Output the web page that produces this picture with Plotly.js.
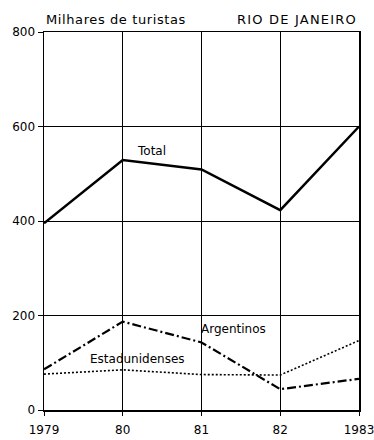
<!DOCTYPE html>
<html><head><meta charset="utf-8">
<script src="https://cdn.plot.ly/plotly-3.0.1.min.js"></script>
<style>html,body{margin:0;padding:0;background:#fff}#chart{width:374px;height:440px}</style>
</head><body><div id="chart"></div>
<script>
const years = [1979, 1980, 1981, 1982, 1983];
const tickLabels = ['1979', '80', '81', '82', '1983'];
const total = [395, 529, 509, 423, 600];
const argentinos = [86, 187, 143, 44, 66];
const estadunidenses = [76, 85, 75, 74, 147];

const font = {family: 'DejaVu Sans, sans-serif', size: 12, color: '#000'};
const titleFont = {family: 'DejaVu Sans, sans-serif', size: 13, color: '#000'};

const traces = [
  {x: years, y: total, mode: 'lines', line: {color: '#000', width: 2.5}, name: 'Total'},
  {x: years, y: argentinos, mode: 'lines', line: {color: '#000', width: 2.2, dash: '9px,3px,2px,3px'}, name: 'Argentinos'},
  {x: years, y: estadunidenses, mode: 'lines', line: {color: '#000', width: 1.6, dash: '2px,2px'}, name: 'Estadunidenses'}
];

const layout = {
  width: 374, height: 440,
  margin: {l: 44, r: 15, t: 32, b: 30},
  paper_bgcolor: '#fff', plot_bgcolor: '#fff',
  showlegend: false,
  font: font,
  xaxis: {
    range: [1979, 1983], tickvals: years, ticktext: tickLabels,
    showgrid: true, gridcolor: '#000', gridwidth: 1,
    showline: true, linecolor: '#000', linewidth: 1.5, mirror: true,
    ticks: 'outside', ticklen: 4, tickcolor: '#000', zeroline: false,
    ticklabeloverflow: 'allow', ticklabelstandoff: 4,
    tickfont: font
  },
  yaxis: {
    range: [0, 800], tickvals: [0, 200, 400, 600, 800],
    showgrid: true, gridcolor: '#000', gridwidth: 1,
    showline: true, linecolor: '#000', linewidth: 1.5, mirror: true,
    ticks: 'outside', ticklen: 5, tickcolor: '#000', zeroline: false,
    tickfont: font
  },
  annotations: [
    {xref: 'paper', yref: 'paper', x: 0.0, y: 1, yshift: 3, xanchor: 'left', yanchor: 'bottom', text: '<span style="letter-spacing:0.6px">Milhares de turistas</span>', showarrow: false, font: titleFont},
    {xref: 'paper', yref: 'paper', x: 1.0, y: 1, yshift: 3, xanchor: 'right', yanchor: 'bottom', text: '<span style="letter-spacing:1.2px">RIO DE JANEIRO</span>', showarrow: false, font: titleFont},
    {x: 1980.36, y: 549, text: 'Total', showarrow: false, font: font},
    {x: 1981.41, y: 171, text: 'Argentinos', showarrow: false, font: font},
    {x: 1980.19, y: 108, text: 'Estadunidenses', showarrow: false, font: font}
  ]
};

Plotly.newPlot('chart', traces, layout, {displayModeBar: false, staticPlot: true});
</script>
</body></html>
